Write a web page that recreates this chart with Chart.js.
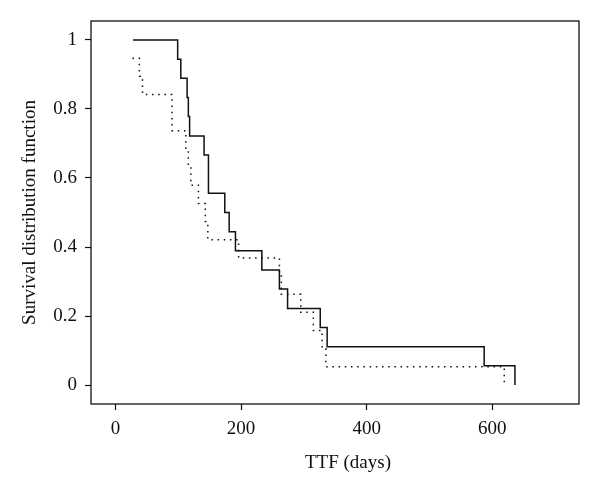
<!DOCTYPE html>
<html>
<head>
<meta charset="utf-8">
<script src="https://cdn.jsdelivr.net/npm/chart.js@4"></script>
<style>
  html, body { margin: 0; padding: 0; background: #fff; }
  canvas { display: block; }
</style>
</head>
<body>
<canvas id="survChart" width="600" height="494"></canvas>
<script>
// survival curves (step after each failure time)
var solidDays = [28, 99, 104, 114, 116, 118, 141, 148, 174, 181, 191, 233, 261, 274, 326, 337, 587, 636];
var solidSurv = [1, 0.944, 0.889, 0.833, 0.778, 0.722, 0.667, 0.556, 0.5, 0.444, 0.389, 0.333, 0.278, 0.222, 0.167, 0.111, 0.056, 0];
var dottedDays = [27, 38, 43, 90, 112, 116, 120, 132, 143, 147, 196, 261, 264, 295, 315, 329, 335, 619];
var dottedSurv = [0.947, 0.895, 0.842, 0.737, 0.684, 0.632, 0.579, 0.526, 0.474, 0.421, 0.368, 0.316, 0.263, 0.211, 0.158, 0.105, 0.053, 0];
var xTicks = [0, 200, 400, 600];
var yTicks = [0, 0.2, 0.4, 0.6, 0.8, 1];
var xTitle = 'TTF (days)';
var yTitle = 'Survival distribution function';

var ink = '#111';
var serif = '"Liberation Serif", "DejaVu Serif", serif';

function toPoints(xs, ys) {
    return xs.map(function (x, i) { return { x: x, y: ys[i] }; });
}

// box round the plot + x title (sits a bit right of centre in the original)
var framePlugin = {
    id: 'frame',
    afterDraw: function (chart) {
        var a = chart.chartArea;
        var ctx = chart.ctx;
        ctx.save();
        ctx.strokeStyle = ink;
        ctx.lineWidth = 1.3;
        ctx.strokeRect(a.left, a.top, a.right - a.left, a.bottom - a.top);
        ctx.fillStyle = ink;
        ctx.font = '19px ' + serif;
        ctx.textAlign = 'center';
        ctx.textBaseline = 'middle';
        ctx.fillText(xTitle, (a.left + a.right) / 2 + 13, 463);
        ctx.restore();
    }
};

var ctx = document.getElementById('survChart').getContext('2d');
var myChart = new Chart(ctx, {
    type: 'line',
    data: {
        datasets: [{
            label: 'Group 1',
            data: toPoints(solidDays, solidSurv),
            borderColor: ink,
            borderWidth: 1.5,
            stepped: 'before',
            pointRadius: 0,
            fill: false
        }, {
            label: 'Group 2',
            data: toPoints(dottedDays, dottedSurv),
            borderColor: ink,
            borderWidth: 1.5,
            borderDash: [1.5, 4.7],
            borderCapStyle: 'butt',
            stepped: 'before',
            pointRadius: 0,
            fill: false
        }]
    },
    options: {
        responsive: false,
        animation: false,
        layout: { padding: { top: 21, right: 21, left: 0, bottom: 0 } },
        plugins: {
            legend: { display: false },
            tooltip: { enabled: false }
        },
        scales: {
            x: {
                type: 'linear',
                min: -39,
                max: 738,
                afterBuildTicks: function (s) {
                    s.ticks = xTicks.map(function (v) { return { value: v }; });
                },
                afterFit: function (s) { s.height = 90; },
                ticks: {
                    color: ink,
                    font: { family: serif, size: 19 },
                    padding: 8,
                    callback: function (v) { return String(v); }
                },
                grid: { drawOnChartArea: false, tickLength: 6, tickColor: ink, tickWidth: 1.2 },
                border: { display: false },
                title: { display: false }
            },
            y: {
                min: -0.055,
                max: 1.055,
                afterBuildTicks: function (s) {
                    s.ticks = yTicks.map(function (v) { return { value: v }; });
                },
                afterFit: function (s) { s.width = 91; },
                ticks: {
                    color: ink,
                    font: { family: serif, size: 19 },
                    padding: 8,
                    callback: function (v) { return String(v); }
                },
                grid: { drawOnChartArea: false, tickLength: 6, tickColor: ink, tickWidth: 1.2 },
                border: { display: false },
                title: {
                    display: true,
                    text: yTitle,
                    color: ink,
                    font: { family: serif, size: 19 },
                    padding: { top: 19, bottom: 0 }
                }
            }
        }
    },
    plugins: [framePlugin]
});
</script>
</body>
</html>
